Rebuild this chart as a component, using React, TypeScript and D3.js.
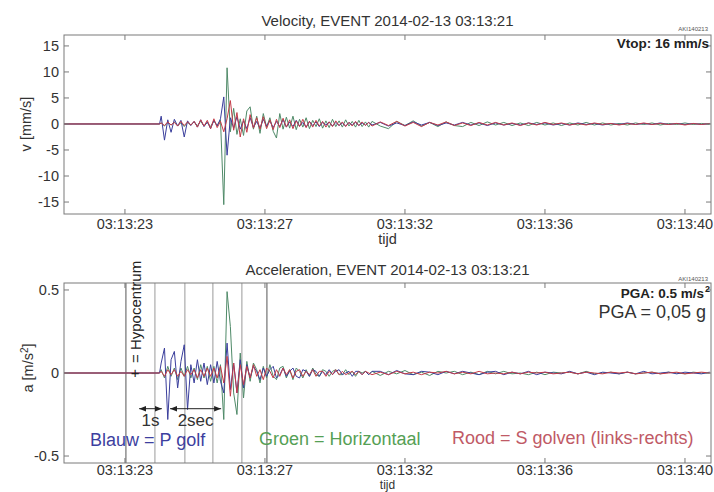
import React from "react";
import * as d3 from "d3";

// ---- time axis (seconds after 03:13:00) ----
const X_MIN = 21.65;
const X_MAX = 41.29;
const tickSeconds = [23.5, 27.75, 32, 36.25, 40.5];
const tickLabels = ["03:13:23", "03:13:27", "03:13:32", "03:13:36", "03:13:40"];

// sampling of the recorded traces
const BURST_T0 = 24.6;
const BURST_DT = 0.1;
const CODA_T0 = 31.25;
const CODA_DT = 0.25;

// ---- velocity (mm/s) ----
const velTicks = [15, 10, 5, 0, -5, -10, -15];
const velBlueBurst = [1.5, -3.1, 0.8, -1.6, 0.9, -0.4, 0.7, -2.5, 0.6, -0.3, 0.5, -0.6, 0.8, -0.5, 0.4, -0.9, 0.7, -0.4, 1.0, 5.2, -6.0, 1.2, -0.8, 1.4, -1.0, 0.6, -0.9, 1.2, -0.7, 0.5, -0.8, 0.9, -0.4, 0.6, -0.7, 0.5, -0.5, 0.8, -0.6, 0.4, -0.5, 0.7, -0.4, 0.3, -0.6, 0.5, -0.3, 0.4, -0.5, 0.3, -0.2, 0.4, -0.4, 0.3, -0.3, 0.2, -0.4, 0.3, -0.2, 0.3, -0.3, 0.2, -0.2, 0.3, -0.2];
const velGreenBurst = [0.2, -0.4, 0.3, -0.2, 0.4, -0.3, 0.2, -0.5, 0.3, -0.2, 0.4, -0.3, 0.5, -0.4, 0.3, -0.5, 0.6, -0.3, 0.8, -15.5, 10.8, -1.5, 3.0, -2.0, 1.0, -2.2, 2.5, 3.3, -1.0, 1.5, -1.8, 2.0, -0.6, 1.2, -1.4, -2.7, 2.0, -1.0, 1.3, -0.8, 1.5, -1.1, 0.9, -0.6, 1.2, -0.9, 0.7, -0.5, 1.0, -0.8, 0.6, -0.7, 0.9, -0.5, 0.6, -0.6, 0.8, -0.4, 0.5, -0.6, 0.7, -0.5, 0.4, -0.6, 0.5];
const velRedBurst = [0.2, -0.3, 0.4, -0.2, 0.3, -0.4, 0.5, -0.3, 0.4, -0.2, 0.5, -0.6, 0.8, -0.4, 0.7, -0.9, 1.0, -0.7, 0.5, -1.5, 1.0, 4.5, -1.2, 2.2, -2.5, 1.0, -1.6, 1.8, -0.8, 1.2, -1.0, 1.4, -0.9, 0.8, -1.1, 0.9, -0.7, 1.1, -0.6, 0.8, -0.9, 0.6, -0.5, 0.9, -0.7, 0.5, -0.6, 0.7, -0.4, 0.5, -0.6, 0.4, -0.5, 0.6, -0.3, 0.4, -0.5, 0.3, -0.4, 0.5, -0.3, 0.4, -0.3, 0.3, -0.4];
const velBlueCoda = [0.3, -0.4, 0.2, -0.3, 0.4, -0.2, 0.3, -0.3, 0.2, -0.2, 0.3, -0.2, 0.2, -0.3, 0.2, -0.2, 0.1, -0.2, 0.2, -0.1, 0.2, -0.2, 0.1, -0.2, 0.2, -0.1, 0.1, -0.2, 0.1, -0.1, 0.2, -0.1, 0.1, -0.1, 0.2, -0.1, 0.1, -0.1, 0.1, -0.1, 0.1];
const velGreenCoda = [-0.4, -0.9, 0.5, -0.3, 0.6, -0.4, 0.3, -0.5, 0.4, -0.3, -0.5, 0.3, -0.3, 0.4, -0.2, 0.3, -0.3, 0.2, -0.3, 0.3, -0.2, 0.2, -0.3, 0.2, -0.2, 0.3, -0.2, 0.2, -0.2, 0.1, -0.2, 0.2, -0.1, 0.2, -0.2, 0.1, -0.1, 0.2, -0.1, 0.1, -0.1];
const velRedCoda = [0.4, -0.3, 0.5, -0.4, 0.3, -0.5, 0.3, -0.2, 0.4, -0.3, 0.2, -0.3, 0.3, -0.2, 0.3, -0.2, 0.2, -0.3, 0.2, -0.2, 0.3, -0.1, 0.2, -0.2, 0.1, -0.2, 0.2, -0.1, 0.1, -0.2, 0.1, -0.1, 0.2, -0.1, 0.1, -0.1, 0.1, -0.2, 0.1, -0.1, 0.1];

// ---- acceleration (m/s^2) ----
const accTicks = [0.5, 0, -0.5];
const accBlueBurst = [0.06, 0.15, -0.28, 0.08, 0.13, -0.09, 0.07, 0.17, -0.22, 0.05, -0.06, 0.08, -0.05, 0.06, -0.07, 0.05, -0.06, 0.07, -0.05, -0.12, 0.18, -0.1, 0.06, -0.12, 0.08, -0.09, 0.05, -0.03, 0.04, 0.01, -0.04, 0.03, -0.02, 0.02, 0.04, -0.03, -0.01, 0.03, -0.02, 0.01, 0.03, -0.02, -0.03, 0.02, 0.01, -0.02, 0.02, 0.01, -0.02, 0.01, -0.01, 0.02, -0.01, 0.01, 0.02, -0.01, 0, 0.01, -0.02, 0.01, 0.01, -0.01, 0.01, -0.01, 0.01];
const accGreenBurst = [0.02, -0.03, 0.04, -0.02, 0.03, -0.04, 0.03, -0.02, 0.04, -0.03, 0.03, -0.04, 0.05, -0.03, 0.04, -0.05, 0.04, -0.06, 0.05, -0.28, 0.49, 0.28, -0.12, -0.25, 0.12, -0.15, 0.07, -0.05, 0.06, 0.02, -0.06, 0.04, -0.03, 0.05, -0.02, -0.04, 0.03, 0.04, -0.03, 0.02, -0.04, 0.03, 0.01, -0.03, 0.02, -0.02, 0.03, -0.01, -0.02, 0.02, 0.01, -0.02, 0.01, 0.02, -0.01, -0.01, 0.02, -0.01, 0.01, -0.02, 0.01, 0, 0.01, -0.01, 0.01];
const accRedBurst = [0.01, -0.02, 0.02, -0.01, 0.02, -0.02, 0.01, -0.02, 0.02, -0.01, 0.02, -0.03, 0.02, -0.02, 0.03, -0.02, 0.03, -0.03, 0.04, -0.06, 0.1, -0.14, 0.06, -0.12, 0.05, -0.07, 0.04, -0.03, 0.05, -0.02, 0.02, -0.04, 0.03, 0.01, -0.03, 0.02, -0.02, 0.03, -0.01, 0.02, -0.03, 0.01, 0.02, -0.02, 0.01, -0.01, 0.02, -0.02, 0.01, 0.01, -0.02, 0.01, -0.01, 0.02, -0.01, 0.01, -0.01, 0, 0.01, -0.01, 0.01, -0.01, 0.01, 0, -0.01];
const accBlueCoda = [0.01, -0.01, 0.015, -0.005, -0.01, 0.01, 0.005, -0.01, 0.01, -0.005, 0.01, 0, -0.01, 0.005, 0.01, -0.01, 0.005, -0.005, 0.01, -0.01, 0.005, 0, -0.005, 0.01, -0.005, 0.005, -0.01, 0.005, 0, -0.005, 0.005, -0.005, 0.01, -0.005, 0, 0.005, -0.005, 0.005, 0, -0.005, 0.005];
const accGreenCoda = [-0.015, 0.01, -0.005, 0.015, -0.01, 0.005, -0.015, 0.01, 0, 0.01, -0.01, 0.005, -0.01, 0.01, -0.005, 0.01, -0.005, 0, -0.01, 0.005, -0.01, 0.005, 0, 0.005, -0.005, 0.01, -0.005, 0, 0.005, -0.005, 0.005, -0.005, 0, 0.005, -0.005, 0.005, 0, -0.005, 0.005, 0, 0];
const accRedCoda = [0.005, -0.01, 0.01, -0.005, 0.005, -0.01, 0.005, 0, 0.01, -0.005, 0.005, -0.005, 0.01, -0.005, 0, -0.005, 0.005, -0.005, 0.005, 0, 0.005, -0.005, 0, 0.005, -0.005, 0.005, 0, -0.005, 0.005, 0, 0.005, -0.005, 0, 0.005, -0.005, 0, 0.005, -0.005, 0, 0.005, 0];

// annotation markers (seconds)
const markerTimes = [23.53, 24.41, 25.32, 26.17, 27.05, 27.81];
const hypoTime = 23.81;
const arrow1s = [23.93, 24.62];
const arrow2s = [24.87, 26.42];

const COLORS = { blue: "#3a3e9c", green: "#4f8a68", red: "#c43c48" };
const FONT = "'Liberation Sans', Arial, Helvetica, sans-serif";

function buildTrace(burst: number[], coda: number[]): [number, number][] {
  const pts: [number, number][] = [[X_MIN, 0], [BURST_T0 - 0.05, 0]];
  burst.forEach((v, i) => pts.push([BURST_T0 + i * BURST_DT, v]));
  coda.forEach((v, i) => pts.push([CODA_T0 + i * CODA_DT, v]));
  return pts;
}

const x = d3.scaleLinear().domain([X_MIN, X_MAX]).range([64, 711]);

type PanelProps = {
  id: string;
  top: number;
  bottom: number;
  yDomain: [number, number];
  yTicks: number[];
  yFmt: (v: number) => string;
  traces: { data: [number, number][]; color: string }[];
  labelOffset: number;
  children?: (y: d3.ScaleLinear<number, number>) => React.ReactNode;
};

function Panel({ id, top, bottom, yDomain, yTicks, yFmt, traces, labelOffset, children }: PanelProps) {
  const y = d3.scaleLinear().domain(yDomain).range([bottom, top]);
  const line = d3
    .line<[number, number]>()
    .x((d) => x(d[0]))
    .y((d) => y(d[1]));
  const [x0, x1] = x.range();
  const tl = 5;
  return (
    <g>
      <defs>
        <clipPath id={id}>
          <rect x={x0} y={top} width={x1 - x0} height={bottom - top} />
        </clipPath>
      </defs>
      {children && children(y)}
      <g clipPath={`url(#${id})`}>
        {traces.map((t, i) => (
          <path key={i} d={line(t.data) || ""} fill="none" stroke={t.color} strokeWidth={1} strokeLinejoin="round" />
        ))}
      </g>
      <rect x={x0} y={top} width={x1 - x0} height={bottom - top} fill="none" stroke="#7a7a7a" strokeWidth={1} />
      {yTicks.map((v) => (
        <g key={v}>
          <line x1={x0} x2={x0 + tl} y1={y(v)} y2={y(v)} stroke="#7a7a7a" />
          <line x1={x1} x2={x1 - tl} y1={y(v)} y2={y(v)} stroke="#7a7a7a" />
          <text x={x0 - 5} y={y(v)} dy="0.36em" textAnchor="end" fontSize={14.5} fill="#333">
            {yFmt(v)}
          </text>
        </g>
      ))}
      {tickSeconds.map((s, i) => (
        <g key={s}>
          <line x1={x(s)} x2={x(s)} y1={bottom} y2={bottom - tl} stroke="#7a7a7a" />
          <line x1={x(s)} x2={x(s)} y1={top} y2={top + tl} stroke="#7a7a7a" />
          <text x={x(s)} y={bottom + labelOffset} textAnchor="middle" fontSize={14.5} fill="#333">
            {tickLabels[i]}
          </text>
        </g>
      ))}
    </g>
  );
}

export default function App() {
  const velTraces = [
    { data: buildTrace(velGreenBurst, velGreenCoda), color: COLORS.green },
    { data: buildTrace(velBlueBurst, velBlueCoda), color: COLORS.blue },
    { data: buildTrace(velRedBurst, velRedCoda), color: COLORS.red },
  ];
  const accTraces = [
    { data: buildTrace(accGreenBurst, accGreenCoda), color: COLORS.green },
    { data: buildTrace(accBlueBurst, accBlueCoda), color: COLORS.blue },
    { data: buildTrace(accRedBurst, accRedCoda), color: COLORS.red },
  ];
  const cx = (x.range()[0] + x.range()[1]) / 2;
  return (
    <svg
      width={714}
      height={492}
      style={{ position: "absolute", left: 0, top: 0, background: "#fff" }}
      fontFamily={FONT}
    >
      <defs>
        <marker id="ah" viewBox="0 0 10 10" refX="10" refY="5" markerWidth="7" markerHeight="7" orient="auto-start-reverse">
          <path d="M0,1 L10,5 L0,9 z" fill="#222" />
        </marker>
      </defs>
      <rect x={0} y={0} width={714} height={492} fill="#fff" />

      {/* Velocity panel */}
      <text x={cx} y={26} textAnchor="middle" fontSize={15} fill="#333">
        Velocity, EVENT 2014-02-13 03:13:21
      </text>
      <Panel id="clipV" top={35} bottom={214} yDomain={[-17.3, 17.1]} yTicks={velTicks} yFmt={(v) => String(v)} traces={velTraces} labelOffset={15} />
      <text x={708} y={31} textAnchor="end" fontSize={6} fill="#555">AKI140213</text>
      <text x={709} y={48} textAnchor="end" fontSize={13.5} fontWeight="bold" fill="#222">Vtop: 16 mm/s</text>
      <text transform="translate(31,124) rotate(-90)" textAnchor="middle" fontSize={14.5} fill="#333">v [mm/s]</text>
      <text x={cx} y={244} textAnchor="middle" fontSize={14.5} fill="#333">tijd</text>

      {/* Acceleration panel */}
      <text x={cx} y={275} textAnchor="middle" fontSize={15} fill="#333">
        Acceleration, EVENT 2014-02-13 03:13:21
      </text>
      <Panel
        id="clipA"
        top={283}
        bottom={463}
        yDomain={[-0.542, 0.542]}
        yTicks={accTicks}
        yFmt={(v) => (v === 0 ? "0" : String(v))}
        traces={accTraces}
        labelOffset={11.5}
      >
        {(y) => (
          <g>
            {markerTimes.map((t, i) => (
              <line
                key={t}
                x1={x(t)}
                x2={x(t)}
                y1={y(0.542)}
                y2={y(-0.542)}
                stroke={i === 0 || i === markerTimes.length - 1 ? "#555" : "#9a9a9a"}
                strokeWidth={1}
              />
            ))}
          </g>
        )}
      </Panel>
      {(() => {
        const y = d3.scaleLinear().domain([-0.542, 0.542]).range([463, 283]);
        const ay = y(-0.215);
        return (
          <g>
            <text x={x(hypoTime)} y={y(0)} dy="0.36em" textAnchor="middle" fontSize={15} fill="#222">+</text>
            <text transform={`translate(${x(hypoTime) + 6},363) rotate(-90)`} fontSize={15} fill="#222">= Hypocentrum</text>
            <line x1={x(arrow1s[0])} x2={x(arrow1s[1])} y1={ay} y2={ay} stroke="#222" strokeWidth={1} markerStart="url(#ah)" markerEnd="url(#ah)" />
            <line x1={x(arrow2s[0])} x2={x(arrow2s[1])} y1={ay} y2={ay} stroke="#222" strokeWidth={1} markerStart="url(#ah)" markerEnd="url(#ah)" />
            <text x={(x(arrow1s[0]) + x(arrow1s[1])) / 2} y={426} textAnchor="middle" fontSize={17} fill="#333">1s</text>
            <text x={(x(arrow2s[0]) + x(arrow2s[1])) / 2} y={426} textAnchor="middle" fontSize={17} fill="#333">2sec</text>
          </g>
        );
      })()}
      <text x={708} y={281} textAnchor="end" fontSize={6} fill="#555">AKI140213</text>
      <text x={704} y={298} textAnchor="end" fontSize={13.5} fontWeight="bold" fill="#222">PGA: 0.5 m/s</text>
      <text x={705} y={292} fontSize={9} fontWeight="bold" fill="#222">2</text>
      <text x={706} y={318} textAnchor="end" fontSize={18} fill="#333">PGA = 0,05 g</text>
      <text transform="translate(33,368) rotate(-90)" textAnchor="middle" fontSize={14.5} fill="#333">
        a [m/s<tspan dy={-5} fontSize={10}>2</tspan><tspan dy={5}>]</tspan>
      </text>
      <text x={cx} y={489.4} textAnchor="middle" fontSize={12} fill="#333">tijd</text>

      {/* legend notes */}
      <text x={90} y={446} fontSize={18} fill="#3d3f9f">Blauw = P golf</text>
      <text x={259} y={445} fontSize={18} fill="#55a055">Groen = Horizontaal</text>
      <text x={452} y={444} fontSize={18} fill="#c05a66">Rood = S golven (links-rechts)</text>
    </svg>
  );
}
